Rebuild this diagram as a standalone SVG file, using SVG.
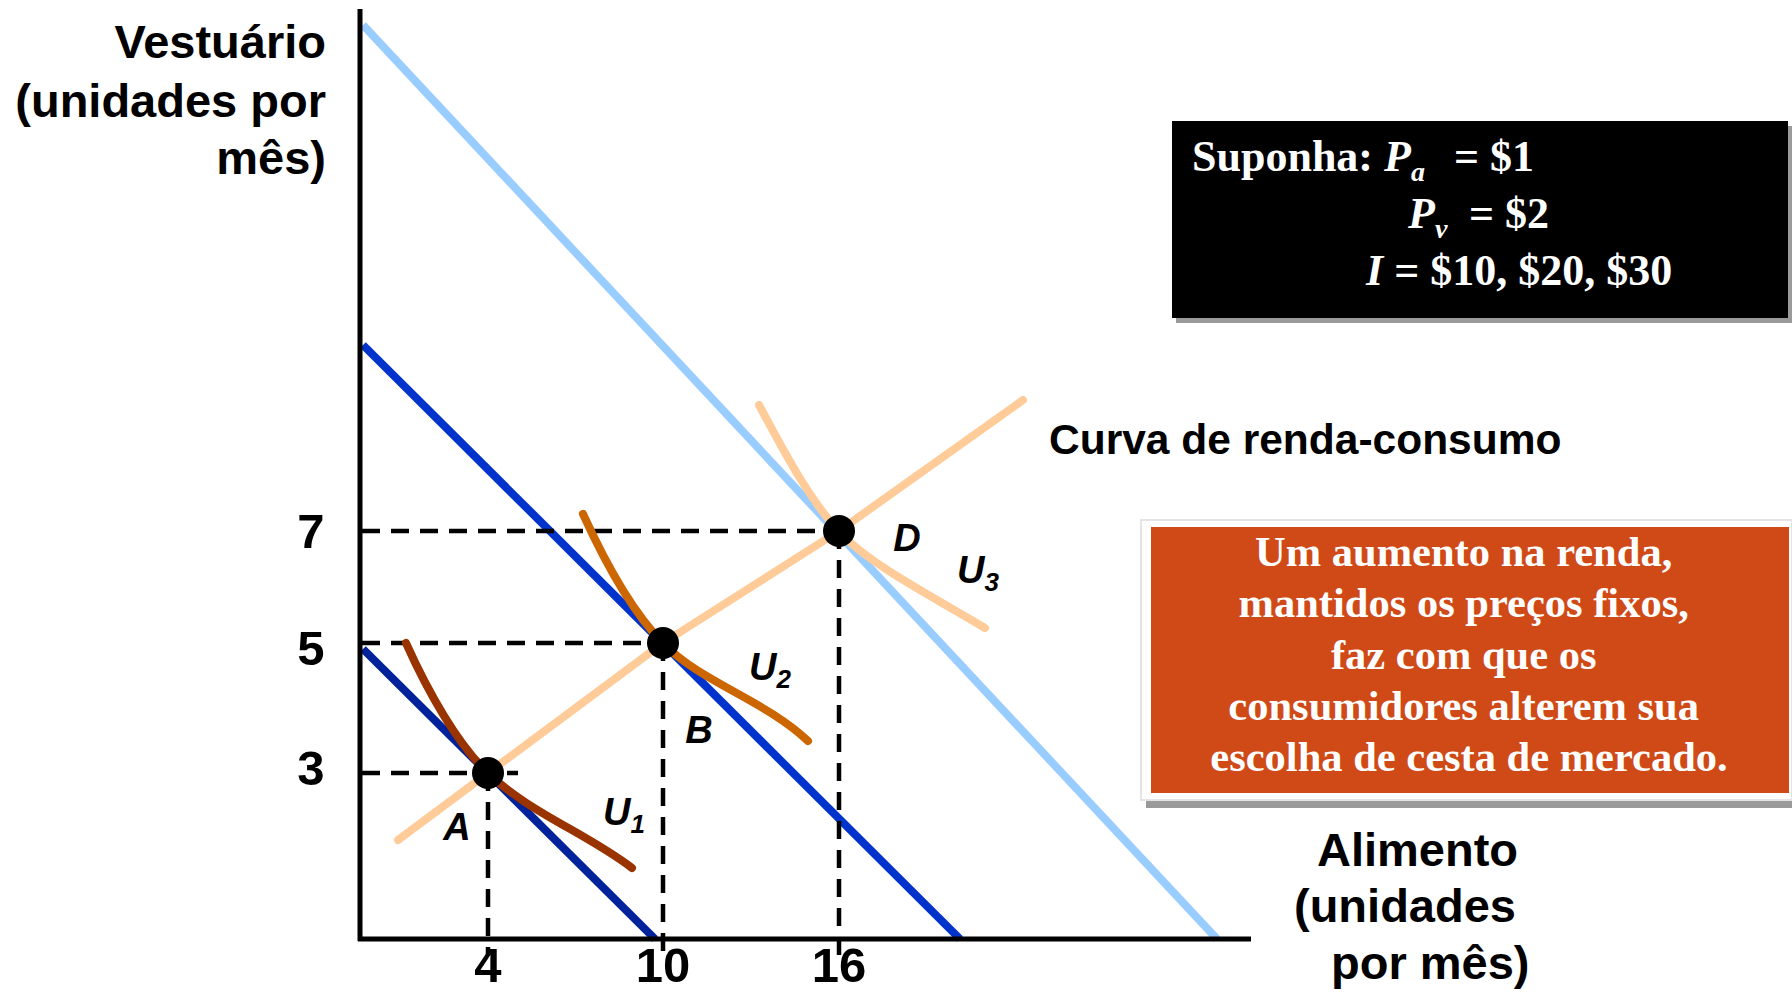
<svg xmlns="http://www.w3.org/2000/svg" width="1792" height="994" viewBox="0 0 1792 994">
<style>
.ax{font-family:"Liberation Sans",Arial,sans-serif;font-weight:bold;font-size:47px;fill:#000}
.tick{font-family:"Liberation Sans",Arial,sans-serif;font-weight:bold;font-size:49px;fill:#000;text-anchor:middle}
.lbl{font-family:"Liberation Sans",Arial,sans-serif;font-weight:bold;font-style:italic;font-size:38px;fill:#000}
.dash{stroke:#000;stroke-width:4.5;stroke-dasharray:18 11;fill:none}
.budget{fill:none;stroke-width:8;stroke-linecap:butt}
.curve{fill:none;stroke-width:8;stroke-linecap:round;stroke-linejoin:round}
.serif{font-family:"Liberation Serif","Times New Roman",serif;fill:#fff;font-weight:bold}
</style>
<rect width="1792" height="994" fill="#fff"/>

<g id="axis-titles">
<text class="ax" text-anchor="end"><tspan x="326" y="58">Vestuário</tspan><tspan x="326" y="117">(unidades por</tspan><tspan x="326" y="174">mês)</tspan></text>
<text class="ax"><tspan x="1317" y="866">Alimento</tspan><tspan x="1294" y="922">(unidades</tspan><tspan x="1331" y="979">por mês)</tspan></text>
</g>

<g id="budget-lines">
<line class="budget" x1="363" y1="25" x2="1217" y2="939" stroke="#99CCFF"/>
<line class="budget" x1="363" y1="345" x2="960" y2="939" stroke="#0033CC"/>
<line class="budget" x1="363" y1="649" x2="655" y2="939" stroke="#00229A"/>
</g>

<g id="connectors">
<line class="dash" x1="362" y1="531" x2="839" y2="531"/>
<line class="dash" x1="362" y1="643" x2="663" y2="643"/>
<line class="dash" x1="362" y1="773" x2="518" y2="773"/>
<line class="dash" x1="488" y1="773" x2="488" y2="956"/>
<line class="dash" x1="663" y1="643" x2="663" y2="956"/>
<line class="dash" x1="839" y1="531" x2="839" y2="956"/>
</g>

<g id="income-consumption-curve">
<polyline class="curve" stroke="#FFCC99" points="398,840 488,773 663,643 839,531 1023,400"/>
</g>

<g id="U1">
<path class="curve" stroke="#993300" d="M406,643 C428,692 458,745 488,773 C528,812 588,834 632,868"/>
</g>
<g id="U2">
<path class="curve" stroke="#CC6600" d="M583,514 C604,560 632,612 663,643 C700,682 765,700 808,741"/>
</g>
<g id="U3">
<path class="curve" stroke="#FFCC99" d="M759,405 C784,452 808,497 839,532 C872,566 930,595 985,628"/>
</g>

<g id="point-A"><circle cx="488" cy="773" r="16" fill="#000"/><text class="lbl" x="457" y="840" text-anchor="middle">A</text></g>
<g id="point-B"><circle cx="663" cy="643" r="16" fill="#000"/><text class="lbl" x="699" y="743" text-anchor="middle">B</text></g>
<g id="point-D"><circle cx="839" cy="531" r="16" fill="#000"/><text class="lbl" x="907" y="551" text-anchor="middle">D</text></g>

<g id="curve-labels">
<text class="lbl" x="603" y="825">U<tspan font-size="26" dy="8">1</tspan></text>
<text class="lbl" x="749" y="680">U<tspan font-size="26" dy="8">2</tspan></text>
<text class="lbl" x="957" y="583">U<tspan font-size="26" dy="8">3</tspan></text>
<text class="ax" x="1049" y="454" style="font-size:42.5px">Curva de renda-consumo</text>
</g>

<g id="axes">
<line x1="360" y1="9" x2="360" y2="941" stroke="#000" stroke-width="5"/>
<line x1="358" y1="939" x2="1251" y2="939" stroke="#000" stroke-width="5"/>
</g>

<g id="tick-labels">
<text class="tick" x="311" y="548">7</text>
<text class="tick" x="311" y="665">5</text>
<text class="tick" x="311" y="785">3</text>
<text class="tick" x="488" y="982">4</text>
<text class="tick" x="663" y="982">10</text>
<text class="tick" x="839" y="982">16</text>
</g>

<g id="assumptions-box">
<rect x="1176" y="126" width="616" height="197" fill="#9a9a9a"/>
<rect x="1172" y="121" width="616" height="197" fill="#000"/>
<text class="serif" x="1192" y="171" font-size="44">Suponha: <tspan font-style="italic">P</tspan><tspan font-style="italic" font-size="28" dy="10">a</tspan><tspan dy="-10" x="1454">= $1</tspan></text>
<text class="serif" x="1408" y="228" font-size="44"><tspan font-style="italic">P</tspan><tspan font-style="italic" font-size="28" dy="10">v</tspan><tspan dy="-10" x="1469">= $2</tspan></text>
<text class="serif" x="1366" y="285" font-size="44"><tspan font-style="italic">I</tspan> = $10, $20, $30</text>
</g>

<g id="explanation-box">
<rect x="1146" y="527" width="646" height="281" fill="#9a9a9a"/>
<rect x="1141" y="520" width="651" height="280" fill="#fff" stroke="#e4e4e4" stroke-width="2"/>
<rect x="1151" y="527" width="638" height="266" fill="#D04A18"/>
<text class="serif" font-size="42.5" text-anchor="middle">
<tspan x="1469" y="566">Um aumento na renda,</tspan>
<tspan x="1469" y="617">mantidos os preços fixos,</tspan>
<tspan x="1469" y="669">faz com que os</tspan>
<tspan x="1469" y="720">consumidores alterem sua</tspan>
<tspan x="1469" y="771">escolha de cesta de mercado.</tspan>
</text>
</g>
</svg>
